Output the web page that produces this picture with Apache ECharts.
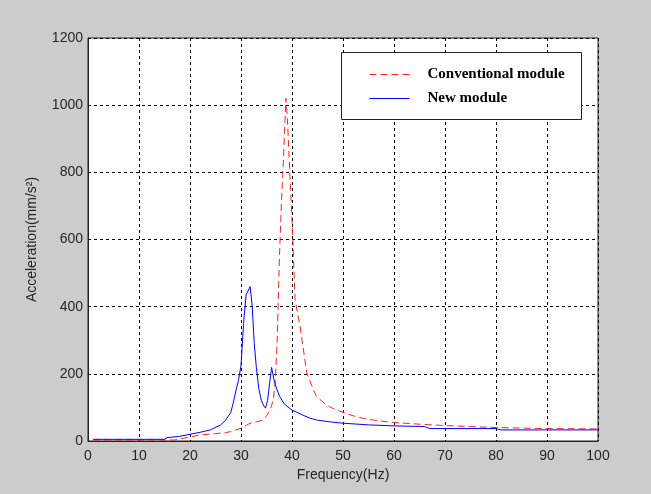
<!DOCTYPE html>
<html>
<head>
<meta charset="utf-8">
<script src="https://cdn.jsdelivr.net/npm/echarts@6/dist/echarts.min.js"></script>
<style>
  html, body { margin: 0; padding: 0; background: #cccccc; }
  #chart { width: 651px; height: 494px; }
</style>
</head>
<body>
<div id="chart"></div>
<script>
// x axis ticks (Hz)
var xTicks = [0, 10, 20, 30, 40, 50, 60, 70, 80, 90, 100];
var yTicks = [0, 200, 400, 600, 800, 1000, 1200];

// Conventional module (red dashed)
var convHz  = [1, 16, 17, 18, 20, 22, 25, 27, 28, 30, 31.8, 33, 34.3, 35, 35.7, 36.3, 36.7, 37.1, 37.5, 37.9, 38.3, 38.8, 39.1, 39.6, 40.1, 40.6, 41.6, 42.9, 44, 44.8, 46.8, 48, 50, 52, 54, 57, 60, 65, 70, 75, 80, 90, 100];
var convVal = [3, 3, 3, 6, 12, 18, 22, 25, 28, 38, 53, 57, 62, 75, 92, 120, 172, 300, 530, 700, 830, 1020, 960, 787, 628, 420, 340, 202, 160, 132, 107, 97, 85, 75, 67, 60, 55, 50, 46, 43, 40, 37, 36];

// New module (blue solid)
var newHz  = [1, 15, 15.5, 18, 20, 22, 24, 26, 27, 28, 28.5, 29, 29.5, 30, 30.5, 31, 31.8, 32.2, 32.6, 33, 33.5, 34, 34.5, 34.8, 35.2, 35.6, 36, 36.5, 37, 37.6, 38.5, 40, 42, 43.5, 45, 48, 50, 55, 60, 66, 67, 80, 81, 100];
var newVal = [5, 5, 10, 14, 20, 26, 33, 48, 62, 85, 115, 150, 180, 225, 350, 435, 460, 400, 290, 220, 155, 120, 104, 98, 120, 170, 219, 180, 155, 132, 110, 92, 78, 68, 62, 56, 53, 48, 45, 43, 37, 37, 33, 33];

function pairs(xs, ys) {
    var out = [];
    for (var i = 0; i < xs.length; i++) out.push([xs[i], ys[i]]);
    return out;
}

var chart = echarts.init(document.getElementById('chart'));
var option = {
    backgroundColor: '#cccccc',
    animation: false,
    grid: {
        left: 88, top: 38, right: 53, bottom: 53,
        show: true, backgroundColor: '#ffffff',
        borderColor: '#222222', borderWidth: 1
    },
    xAxis: {
        type: 'value', min: 0, max: 100, interval: 10,
        name: 'Frequency(Hz)', nameLocation: 'middle', nameGap: 27,
        nameTextStyle: { fontFamily: 'Liberation Sans', fontSize: 14, color: '#262626' },
        axisLine: { show: true, lineStyle: { color: '#222222' } },
        axisTick: { show: false },
        axisLabel: { fontFamily: 'Liberation Sans', fontSize: 14, color: '#262626', margin: 8,
            formatter: function (v) { return xTicks.indexOf(v) >= 0 ? String(v) : ''; } },
        splitLine: { show: true, lineStyle: { color: '#000000', type: [3, 3], width: 1 } }
    },
    yAxis: {
        type: 'value', min: 0, max: 1200, interval: 200,
        name: 'Acceleration(mm/s\u00b2)', nameLocation: 'middle', nameGap: 49,
        nameTextStyle: { fontFamily: 'Liberation Sans', fontSize: 14, color: '#262626' },
        axisLine: { show: true, lineStyle: { color: '#222222' } },
        axisTick: { show: false },
        axisLabel: { fontFamily: 'Liberation Sans', fontSize: 14, color: '#262626', margin: 5,
            formatter: function (v) { return yTicks.indexOf(v) >= 0 ? String(v) : ''; } },
        splitLine: { show: true, lineStyle: { color: '#000000', type: [3, 3], width: 1 } }
    },
    legend: {
        left: 369, top: 67, orient: 'vertical', z: 20, padding: 0,
        itemWidth: 40, itemHeight: 14, itemGap: 9,
        itemStyle: { opacity: 0 },
        lineStyle: { width: 1 },
        textStyle: { fontFamily: 'Liberation Serif', fontWeight: 'bold', fontSize: 15, color: '#000000', padding: [0, 0, 0, 13] },
        data: ['Conventional module', 'New module']
    },
    graphic: [{
        type: 'rect', z: 5,
        shape: { x: 341.5, y: 52.5, width: 240, height: 67 },
        style: { fill: '#ffffff', stroke: '#222222', lineWidth: 1 }
    }],
    series: [{
        name: 'Conventional module', type: 'line', z: 3,
        data: pairs(convHz, convVal), symbol: 'none', smooth: false,
        lineStyle: { color: '#ff2020', width: 1, type: [7, 4] },
        itemStyle: { color: '#ff2020' }
    }, {
        name: 'New module', type: 'line', z: 4,
        data: pairs(newHz, newVal), symbol: 'none', smooth: false,
        lineStyle: { color: '#0000ff', width: 1 },
        itemStyle: { color: '#0000ff' }
    }]
};
chart.setOption(option);
</script>
</body>
</html>
